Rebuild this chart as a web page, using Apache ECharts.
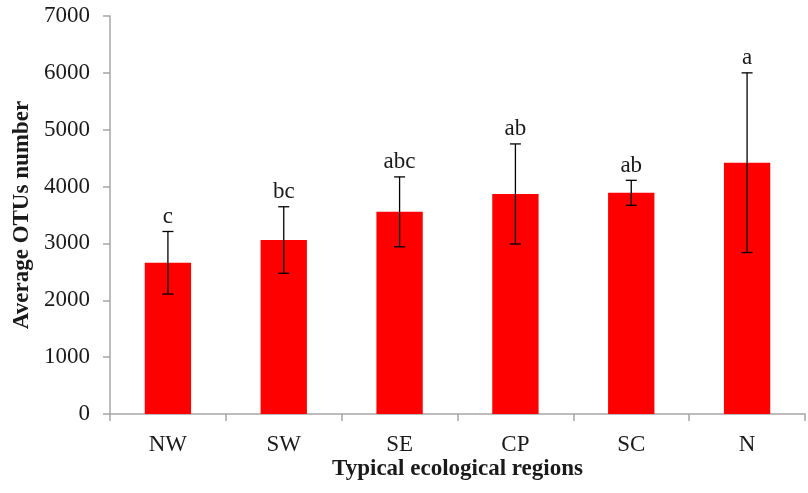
<!DOCTYPE html>
<html><head><meta charset="utf-8">
<script src="https://cdn.jsdelivr.net/npm/echarts@6/dist/echarts.min.js"></script>
<style>html,body{margin:0;padding:0;background:#fff}#c{width:808px;height:493px}</style>
</head><body><div id="c"></div>
<script>
var categories = ['NW','SW','SE','CP','SC','N'];
var means = [2660, 3060, 3555, 3870, 3890, 4420];
var errors = [550, 585, 615, 880, 220, 1580];
var letters = ['c','bc','abc','ab','ab','a'];
var yTicks = [0,1000,2000,3000,4000,5000,6000,7000];

var chart = echarts.init(document.getElementById('c'));
var font = 'Liberation Serif';
var txt = '#1a1a1a';
var errData = categories.map(function(c,i){return [i, means[i], errors[i]];});
chart.setOption({
  animation:false,
  grid:{left:110,right:3,top:16,bottom:79,containLabel:false,outerBoundsMode:'none'},
  xAxis:{type:'category',data:categories,
    axisLine:{lineStyle:{color:'#a6a6a6',width:1.5}},
    axisTick:{show:true,length:7,lineStyle:{color:'#a6a6a6',width:1.5}},
    axisLabel:{color:txt,fontFamily:font,fontSize:23,margin:19},
    name:'Typical ecological regions',nameLocation:'middle',nameGap:44,nameMoveOverlap:false,
    nameTextStyle:{color:txt,fontFamily:font,fontSize:23,fontWeight:'bold'}},
  yAxis:{type:'value',min:0,max:7000,interval:1000,
    axisLine:{show:true,lineStyle:{color:'#a6a6a6',width:1.5}},
    axisTick:{show:true,length:7,lineStyle:{color:'#a6a6a6',width:1.5}},
    splitLine:{show:false},
    axisLabel:{color:txt,fontFamily:font,fontSize:23,margin:20,
      formatter:function(v){return String(v);}},
    name:'Average OTUs number',nameLocation:'middle',nameGap:76,nameMoveOverlap:false,
    nameTextStyle:{color:txt,fontFamily:font,fontSize:23,fontWeight:'bold'}},
  series:[
    {type:'bar',data:means,barWidth:'40%',itemStyle:{color:'#ff0000'}},
    {type:'custom',data:errData,z:10,
     renderItem:function(params,api){
       var i=api.value(0),m=api.value(1),e=api.value(2);
       var top=api.coord([i,m+e]),bot=api.coord([i,m-e]);
       var x=top[0],hw=5.5;
       var s={stroke:'#000',lineWidth:1.3};
       return {type:'group',children:[
         {type:'line',shape:{x1:x,y1:top[1],x2:x,y2:bot[1]},style:s},
         {type:'line',shape:{x1:x-hw,y1:top[1],x2:x+hw,y2:top[1]},style:s},
         {type:'line',shape:{x1:x-hw,y1:bot[1],x2:x+hw,y2:bot[1]},style:s},
         {type:'text',style:{text:letters[params.dataIndex],x:x,y:top[1]-3,
           textAlign:'center',textVerticalAlign:'bottom',fill:txt,
           font:'23px "Liberation Serif"'}}
       ]};
     }}
  ]
});
</script></body></html>
